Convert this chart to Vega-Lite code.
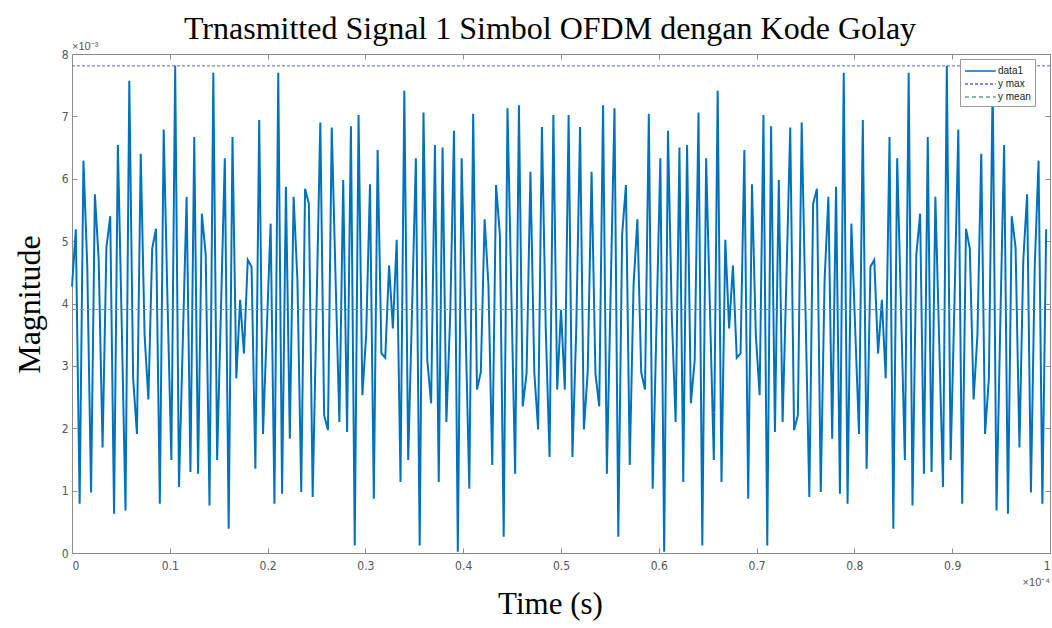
{
  "$schema": "https://vega.github.io/schema/vega-lite/v6.json",
  "width": 978,
  "height": 499,
  "autosize": {"type": "none"},
  "padding": {"left": 72, "top": 54, "right": 2, "bottom": 75},
  "background": "white",
  "config": {
    "view": {"stroke": null},
    "font": "Liberation Sans",
    "legend": {
      "orient": "none", "legendX": 888, "legendY": 5, "title": null,
      "fillColor": "white", "strokeColor": "#9a9a9a", "padding": 4,
      "symbolType": "M-1,0L3.4,0", "symbolSize": 196, "symbolStrokeWidth": 1.5,
      "labelOffset": 18,
      "labelFont": "Liberation Sans", "labelFontSize": 10, "labelColor": "#222", "rowPadding": 0
    },
    "axis": {
      "grid": false, "domainColor": "#8c8c8c", "tickColor": "#8c8c8c", "tickSize": -5,
      "labelFont": "Liberation Sans Narrow, DejaVu Sans Condensed, Liberation Sans",
      "labelFontSize": 12, "labelColor": "#555"
    }
  },
  "title": {
    "text": "Trnasmitted Signal 1 Simbol OFDM dengan Kode Golay",
    "font": "Liberation Serif", "fontSize": 32, "fontWeight": "normal", "color": "#000",
    "offset": 8, "dx": -11, "dy": 13, "anchor": "middle"
  },
  "data": {"values": [
    {"t":0,"m":4.27e-3},{"t":0.39e-6,"m":5.19e-3},{"t":0.78e-6,"m":0.79e-3},{"t":1.17e-6,"m":6.29e-3},
    {"t":1.56e-6,"m":4.6e-3},{"t":1.95e-6,"m":0.97e-3},{"t":2.34e-6,"m":5.75e-3},{"t":2.73e-6,"m":4.7e-3},
    {"t":3.125e-6,"m":1.69e-3},{"t":3.52e-6,"m":4.9e-3},{"t":3.91e-6,"m":5.4e-3},{"t":4.30e-6,"m":0.63e-3},
    {"t":4.69e-6,"m":6.54e-3},{"t":5.08e-6,"m":3.7e-3},{"t":5.47e-6,"m":0.68e-3},{"t":5.86e-6,"m":7.57e-3},
    {"t":6.25e-6,"m":2.8e-3},{"t":6.64e-6,"m":1.91e-3},{"t":7.03e-6,"m":6.4e-3},{"t":7.42e-6,"m":3.5e-3},
    {"t":7.81e-6,"m":2.46e-3},{"t":8.20e-6,"m":4.88e-3},{"t":8.59e-6,"m":5.2e-3},{"t":8.98e-6,"m":0.79e-3},
    {"t":9.375e-6,"m":6.79e-3},{"t":9.77e-6,"m":4.0e-3},{"t":10.16e-6,"m":1.49e-3},{"t":10.55e-6,"m":7.81e-3},
    {"t":10.94e-6,"m":1.06e-3},{"t":11.33e-6,"m":3.4e-3},{"t":11.72e-6,"m":5.71e-3},{"t":12.11e-6,"m":1.30e-3},
    {"t":12.5e-6,"m":6.67e-3},{"t":12.89e-6,"m":1.27e-3},{"t":13.28e-6,"m":5.44e-3},{"t":13.67e-6,"m":4.78e-3},
    {"t":14.06e-6,"m":0.76e-3},{"t":14.45e-6,"m":7.70e-3},{"t":14.84e-6,"m":1.49e-3},{"t":15.23e-6,"m":3.9e-3},
    {"t":15.625e-6,"m":6.33e-3},{"t":16.02e-6,"m":0.39e-3},{"t":16.41e-6,"m":6.67e-3},{"t":16.80e-6,"m":2.80e-3},
    {"t":17.19e-6,"m":4.06e-3},{"t":17.58e-6,"m":3.20e-3},{"t":17.97e-6,"m":4.70e-3},{"t":18.36e-6,"m":4.59e-3},
    {"t":18.75e-6,"m":1.35e-3},{"t":19.14e-6,"m":6.94e-3},{"t":19.53e-6,"m":1.91e-3},{"t":19.92e-6,"m":3.6e-3},
    {"t":20.31e-6,"m":5.28e-3},{"t":20.70e-6,"m":0.79e-3},{"t":21.09e-6,"m":7.70e-3},{"t":21.48e-6,"m":0.95e-3},
    {"t":21.875e-6,"m":5.87e-3},{"t":22.27e-6,"m":1.83e-3},{"t":22.66e-6,"m":5.71e-3},{"t":23.05e-6,"m":4.37e-3},
    {"t":23.44e-6,"m":0.98e-3},{"t":23.83e-6,"m":5.84e-3},{"t":24.22e-6,"m":5.6e-3},{"t":24.61e-6,"m":0.90e-3},
    {"t":25e-6,"m":3.9e-3},{"t":25.39e-6,"m":6.9e-3},{"t":25.78e-6,"m":2.21e-3},{"t":26.17e-6,"m":1.97e-3},
    {"t":26.56e-6,"m":6.82e-3},{"t":26.95e-6,"m":4.4e-3},{"t":27.34e-6,"m":2.10e-3},{"t":27.73e-6,"m":5.98e-3},
    {"t":28.125e-6,"m":1.94e-3},{"t":28.52e-6,"m":6.84e-3},{"t":28.91e-6,"m":0.12e-3},{"t":29.30e-6,"m":7.02e-3},
    {"t":29.69e-6,"m":2.53e-3},{"t":30.08e-6,"m":3.5e-3},{"t":30.47e-6,"m":5.91e-3},{"t":30.86e-6,"m":0.87e-3},
    {"t":31.25e-6,"m":6.46e-3},{"t":31.64e-6,"m":3.20e-3},{"t":32.03e-6,"m":3.13e-3},{"t":32.42e-6,"m":4.61e-3},
    {"t":32.81e-6,"m":3.60e-3},{"t":33.20e-6,"m":5.02e-3},{"t":33.59e-6,"m":1.14e-3},{"t":33.98e-6,"m":7.41e-3},
    {"t":34.375e-6,"m":1.49e-3},{"t":34.77e-6,"m":3.9e-3},{"t":35.16e-6,"m":6.33e-3},{"t":35.55e-6,"m":0.12e-3},
    {"t":35.94e-6,"m":7.06e-3},{"t":36.33e-6,"m":3.09e-3},{"t":36.72e-6,"m":2.40e-3},{"t":37.11e-6,"m":6.54e-3},
    {"t":37.5e-6,"m":1.14e-3},{"t":37.89e-6,"m":6.50e-3},{"t":38.28e-6,"m":2.10e-3},{"t":38.67e-6,"m":3.8e-3},
    {"t":39.06e-6,"m":6.77e-3},{"t":39.45e-6,"m":0.02e-3},{"t":39.84e-6,"m":6.33e-3},{"t":40.23e-6,"m":3.7e-3},
    {"t":40.625e-6,"m":1.03e-3},{"t":41.02e-6,"m":7.04e-3},{"t":41.41e-6,"m":2.62e-3},{"t":41.80e-6,"m":2.90e-3},
    {"t":42.19e-6,"m":5.35e-3},{"t":42.58e-6,"m":4.3e-3},{"t":42.97e-6,"m":1.41e-3},{"t":43.36e-6,"m":5.90e-3},
    {"t":43.75e-6,"m":5.1e-3},{"t":44.14e-6,"m":0.26e-3},{"t":44.53e-6,"m":7.13e-3},{"t":44.92e-6,"m":4.2e-3},
    {"t":45.31e-6,"m":1.27e-3},{"t":45.70e-6,"m":7.18e-3},{"t":46.09e-6,"m":2.35e-3},{"t":46.48e-6,"m":2.88e-3},
    {"t":46.875e-6,"m":6.11e-3},{"t":47.27e-6,"m":2.9e-3},{"t":47.66e-6,"m":1.98e-3},{"t":48.05e-6,"m":6.83e-3},
    {"t":48.44e-6,"m":3.6e-3},{"t":48.83e-6,"m":1.54e-3},{"t":49.22e-6,"m":7.02e-3},{"t":49.61e-6,"m":2.62e-3},
    {"t":50e-6,"m":3.90e-3},{"t":50.39e-6,"m":2.62e-3},{"t":50.78e-6,"m":7.02e-3},{"t":51.17e-6,"m":1.54e-3},
    {"t":51.56e-6,"m":3.6e-3},{"t":51.95e-6,"m":6.83e-3},{"t":52.34e-6,"m":1.98e-3},{"t":52.73e-6,"m":2.9e-3},
    {"t":53.125e-6,"m":6.11e-3},{"t":53.52e-6,"m":2.88e-3},{"t":53.91e-6,"m":2.35e-3},{"t":54.30e-6,"m":7.18e-3},
    {"t":54.69e-6,"m":1.27e-3},{"t":55.08e-6,"m":4.2e-3},{"t":55.47e-6,"m":7.13e-3},{"t":55.86e-6,"m":0.26e-3},
    {"t":56.25e-6,"m":5.1e-3},{"t":56.64e-6,"m":5.90e-3},{"t":57.03e-6,"m":1.41e-3},{"t":57.42e-6,"m":4.3e-3},
    {"t":57.81e-6,"m":5.35e-3},{"t":58.20e-6,"m":2.90e-3},{"t":58.59e-6,"m":2.62e-3},{"t":58.98e-6,"m":7.04e-3},
    {"t":59.375e-6,"m":1.03e-3},{"t":59.77e-6,"m":3.7e-3},{"t":60.16e-6,"m":6.33e-3},{"t":60.55e-6,"m":0.02e-3},
    {"t":60.94e-6,"m":6.77e-3},{"t":61.33e-6,"m":3.8e-3},{"t":61.72e-6,"m":2.10e-3},{"t":62.11e-6,"m":6.50e-3},
    {"t":62.5e-6,"m":1.14e-3},{"t":62.89e-6,"m":6.54e-3},{"t":63.28e-6,"m":2.40e-3},{"t":63.67e-6,"m":3.09e-3},
    {"t":64.06e-6,"m":7.06e-3},{"t":64.45e-6,"m":0.12e-3},{"t":64.84e-6,"m":6.33e-3},{"t":65.23e-6,"m":3.9e-3},
    {"t":65.625e-6,"m":1.49e-3},{"t":66.02e-6,"m":7.41e-3},{"t":66.41e-6,"m":1.14e-3},{"t":66.80e-6,"m":5.02e-3},
    {"t":67.19e-6,"m":3.60e-3},{"t":67.58e-6,"m":4.61e-3},{"t":67.97e-6,"m":3.13e-3},{"t":68.36e-6,"m":3.20e-3},
    {"t":68.75e-6,"m":6.46e-3},{"t":69.14e-6,"m":0.87e-3},{"t":69.53e-6,"m":5.91e-3},{"t":69.92e-6,"m":3.5e-3},
    {"t":70.31e-6,"m":2.53e-3},{"t":70.70e-6,"m":7.02e-3},{"t":71.09e-6,"m":0.12e-3},{"t":71.48e-6,"m":6.84e-3},
    {"t":71.875e-6,"m":1.94e-3},{"t":72.27e-6,"m":5.98e-3},{"t":72.66e-6,"m":2.10e-3},{"t":73.05e-6,"m":4.4e-3},
    {"t":73.44e-6,"m":6.82e-3},{"t":73.83e-6,"m":1.97e-3},{"t":74.22e-6,"m":2.21e-3},{"t":74.61e-6,"m":6.9e-3},
    {"t":75e-6,"m":3.9e-3},{"t":75.39e-6,"m":0.90e-3},{"t":75.78e-6,"m":5.6e-3},{"t":76.17e-6,"m":5.84e-3},
    {"t":76.56e-6,"m":0.98e-3},{"t":76.95e-6,"m":4.37e-3},{"t":77.34e-6,"m":5.71e-3},{"t":77.73e-6,"m":1.83e-3},
    {"t":78.125e-6,"m":5.87e-3},{"t":78.52e-6,"m":0.95e-3},{"t":78.91e-6,"m":7.70e-3},{"t":79.30e-6,"m":0.79e-3},
    {"t":79.69e-6,"m":5.28e-3},{"t":80.08e-6,"m":3.6e-3},{"t":80.47e-6,"m":1.91e-3},{"t":80.86e-6,"m":6.94e-3},
    {"t":81.25e-6,"m":1.35e-3},{"t":81.64e-6,"m":4.59e-3},{"t":82.03e-6,"m":4.70e-3},{"t":82.42e-6,"m":3.20e-3},
    {"t":82.81e-6,"m":4.06e-3},{"t":83.20e-6,"m":2.80e-3},{"t":83.59e-6,"m":6.67e-3},{"t":83.98e-6,"m":0.39e-3},
    {"t":84.375e-6,"m":6.33e-3},{"t":84.77e-6,"m":3.9e-3},{"t":85.16e-6,"m":1.49e-3},{"t":85.55e-6,"m":7.70e-3},
    {"t":85.94e-6,"m":0.76e-3},{"t":86.33e-6,"m":4.78e-3},{"t":86.72e-6,"m":5.44e-3},{"t":87.11e-6,"m":1.27e-3},
    {"t":87.5e-6,"m":6.67e-3},{"t":87.89e-6,"m":1.30e-3},{"t":88.28e-6,"m":5.71e-3},{"t":88.67e-6,"m":3.4e-3},
    {"t":89.06e-6,"m":1.06e-3},{"t":89.45e-6,"m":7.81e-3},{"t":89.84e-6,"m":1.49e-3},{"t":90.23e-6,"m":4.0e-3},
    {"t":90.625e-6,"m":6.79e-3},{"t":91.02e-6,"m":0.79e-3},{"t":91.41e-6,"m":5.2e-3},{"t":91.80e-6,"m":4.88e-3},
    {"t":92.19e-6,"m":2.46e-3},{"t":92.58e-6,"m":3.5e-3},{"t":92.97e-6,"m":6.4e-3},{"t":93.36e-6,"m":1.91e-3},
    {"t":93.75e-6,"m":2.8e-3},{"t":94.14e-6,"m":7.57e-3},{"t":94.53e-6,"m":0.68e-3},{"t":94.92e-6,"m":3.7e-3},
    {"t":95.31e-6,"m":6.54e-3},{"t":95.70e-6,"m":0.63e-3},{"t":96.09e-6,"m":5.4e-3},{"t":96.48e-6,"m":4.9e-3},
    {"t":96.875e-6,"m":1.69e-3},{"t":97.27e-6,"m":4.7e-3},{"t":97.66e-6,"m":5.75e-3},{"t":98.05e-6,"m":0.97e-3},
    {"t":98.44e-6,"m":4.6e-3},{"t":98.83e-6,"m":6.29e-3},{"t":99.22e-6,"m":0.79e-3},{"t":99.61e-6,"m":5.19e-3}
  ]},
  "layer": [
    {
      "mark": {"type": "line", "strokeWidth": 2},
      "encoding": {
        "x": {"field": "t", "type": "quantitative",
          "scale": {"domain": [0, 0.0001], "nice": false},
          "axis": {"orient": "bottom", "values": [0,0.00001,0.00002,0.00003,0.00004,0.00005,0.00006,0.00007,0.00008,0.00009,0.0001],
            "labelExpr": "format(datum.value*1e4, '.1~f')", "labelPadding": 12,
            "title": "Time (s)", "titleFont": "Liberation Serif", "titleFontSize": 31, "titleFontWeight": "normal",
            "titleColor": "#000", "titleX": 478, "titleY": 36, "titleBaseline": "top"}},
        "y": {"field": "m", "type": "quantitative",
          "scale": {"domain": [0, 0.008], "nice": false},
          "axis": {"orient": "left", "values": [0,0.001,0.002,0.003,0.004,0.005,0.006,0.007,0.008],
            "labelExpr": "format(datum.value*1000, '.0f')", "labelPadding": 9,
            "title": "Magnitude", "titleFont": "Liberation Serif", "titleFontSize": 32, "titleFontWeight": "normal",
            "titleColor": "#000", "titleX": -26, "titleY": 250, "titleAngle": -90, "titleBaseline": "bottom", "titleAlign": "center"}},
        "color": {"datum": "data1", "type": "nominal",
          "scale": {"domain": ["data1", "y max", "y mean"], "range": ["#0072BD", "#5c5cf0", "#6aa286"]},
          "legend": {"title": null}},
        "strokeDash": {"datum": "data1", "type": "nominal",
          "scale": {"domain": ["data1", "y max", "y mean"], "range": [[1, 0], [3, 2], [4, 3]]},
          "legend": {"title": null}}
      }
    },
    {
      "mark": {"type": "rule", "strokeWidth": 1},
      "encoding": {
        "y": {"aggregate": "max", "field": "m", "type": "quantitative", "axis": null},
        "color": {"datum": "y max", "type": "nominal"},
        "strokeDash": {"datum": "y max", "type": "nominal"}
      }
    },
    {
      "mark": {"type": "rule", "strokeWidth": 1},
      "encoding": {
        "y": {"aggregate": "mean", "field": "m", "type": "quantitative", "axis": null},
        "color": {"datum": "y mean", "type": "nominal"},
        "strokeDash": {"datum": "y mean", "type": "nominal"}
      }
    },
    {
      "mark": {"type": "line", "strokeOpacity": 0},
      "encoding": {
        "x": {"field": "t", "type": "quantitative",
          "axis": {"orient": "top", "labels": false, "title": null,
            "values": [0,0.00001,0.00002,0.00003,0.00004,0.00005,0.00006,0.00007,0.00008,0.00009,0.0001]}},
        "y": {"field": "m", "type": "quantitative",
          "axis": {"orient": "right", "labels": false, "title": null,
            "values": [0,0.001,0.002,0.003,0.004,0.005,0.006,0.007,0.008]}}
      }
    },
    {
      "data": {"values": [{}]},
      "mark": {"type": "text", "align": "left", "baseline": "bottom", "dy": -2, "fontSize": 11, "color": "#555", "font": "Liberation Sans"},
      "encoding": {
        "x": {"datum": 0, "type": "quantitative", "axis": null},
        "y": {"datum": 0.008, "type": "quantitative", "axis": null},
        "text": {"value": "×10⁻³"}
      }
    },
    {
      "data": {"values": [{}]},
      "mark": {"type": "text", "align": "right", "baseline": "top", "dy": 24, "fontSize": 11, "color": "#555", "font": "Liberation Sans"},
      "encoding": {
        "x": {"datum": 0.0001, "type": "quantitative", "axis": null},
        "y": {"datum": 0, "type": "quantitative", "axis": null},
        "text": {"value": "×10⁻⁴"}
      }
    }
  ],
  "resolve": {"axis": {"x": "independent", "y": "independent"}}
}
